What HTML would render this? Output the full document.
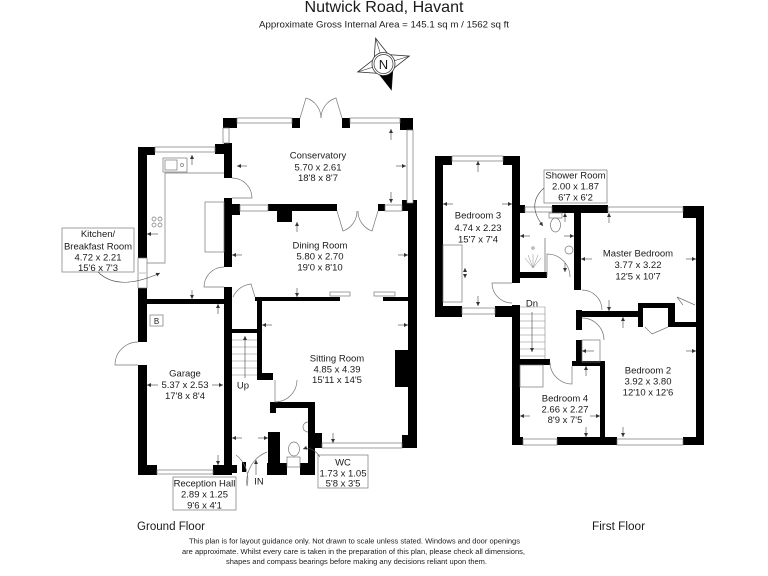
<!DOCTYPE html>
<html><head><meta charset="utf-8"><style>
html,body{margin:0;padding:0;background:#fff;}
svg{display:block;}
text{font-family:"Liberation Sans",Arial,sans-serif;fill:#1a1a1a;}
.l{font-size:9.5px;text-anchor:middle;}
.w{fill:#fff;stroke:#777;stroke-width:0.7;}
.o{fill:none;stroke:#777;stroke-width:0.7;}
.d{stroke:#444;stroke-width:0.6;fill:none;}
</style></head><body>
<svg width="768" height="576" viewBox="0 0 768 576" xmlns="http://www.w3.org/2000/svg">
<defs>
<marker id="a" viewBox="0 0 6 6" refX="6" refY="3" markerWidth="4" markerHeight="4" markerUnits="userSpaceOnUse" orient="auto"><path d="M0,0 L6,3 L0,6z" fill="#333"/></marker>
</defs>

<!-- Header -->
<text x="384" y="12" font-size="16" text-anchor="middle" textLength="159" lengthAdjust="spacingAndGlyphs">Nutwick Road, Havant</text>
<text x="384" y="27.5" font-size="9.5" text-anchor="middle" textLength="250" lengthAdjust="spacingAndGlyphs">Approximate Gross Internal Area = 145.1 sq m / 1562 sq ft</text>

<!-- Compass -->
<g transform="translate(383.5,64) rotate(-17)">
<polygon points="0,-27 7.5,-7.5 27,0 7.5,7.5 0,27 -7.5,7.5 -27,0 -7.5,-7.5" fill="#fff" stroke="#333" stroke-width="0.8"/>
<line x1="0" y1="-27" x2="0" y2="27" stroke="#333" stroke-width="0.6"/>
<line x1="-27" y1="0" x2="27" y2="0" stroke="#333" stroke-width="0.6"/>
<polygon points="0,27 7.5,7.5 -7.5,7.5" fill="#000"/>
</g>
<circle cx="383.5" cy="64" r="11.5" fill="#fff" stroke="#333" stroke-width="0.8"/>
<circle cx="383.5" cy="64" r="9.5" fill="#fff" stroke="#333" stroke-width="0.7"/>
<text x="383.5" y="69" font-size="13" text-anchor="middle">N</text>

<!-- ================= GROUND FLOOR ================= -->
<g fill="#000">
<!-- conservatory -->
<rect x="223" y="118" width="14" height="10"/>
<rect x="292" y="118" width="8" height="10"/>
<rect x="342" y="118" width="8" height="10"/>
<rect x="400" y="118" width="13" height="12"/>
<!-- kitchen/cons junction and kitchen right wall -->
<rect x="215" y="144" width="17" height="10"/>
<rect x="224" y="143" width="8" height="35"/>
<rect x="224" y="198" width="8" height="69"/>
<rect x="224" y="287" width="8" height="188"/>
<!-- kitchen left -->
<rect x="138" y="147" width="9" height="111"/>
<rect x="138" y="288" width="9" height="54"/>
<rect x="138" y="365" width="9" height="110"/>
<rect x="138" y="147" width="17" height="8"/>
<rect x="138" y="299" width="94" height="5"/>
<!-- garage bottom -->
<rect x="138" y="465" width="19" height="10"/>
<rect x="213" y="465" width="19" height="10"/>
<rect x="232" y="465" width="5" height="8"/>
<rect x="242" y="462" width="4" height="10"/>
<!-- dining divider -->
<rect x="224" y="204" width="16" height="11"/>
<rect x="268" y="204" width="69" height="7"/>
<rect x="277" y="211" width="15" height="11"/>
<rect x="378" y="204" width="7" height="7"/>
<rect x="402" y="200" width="15" height="11"/>
<!-- right wall -->
<rect x="408" y="203" width="9" height="245"/>
<rect x="395" y="350" width="13" height="37"/>
<rect x="402" y="435" width="15" height="13"/>
<!-- dining bottom / sitting top -->
<rect x="255" y="297" width="85" height="4"/>
<rect x="383" y="297" width="25" height="4"/>
<!-- stair / sitting left -->
<rect x="232" y="329" width="25" height="4"/>
<rect x="257" y="297" width="5" height="76"/>
<rect x="257" y="373" width="16" height="7"/>
<!-- WC -->
<rect x="270" y="402" width="45" height="6"/>
<rect x="270" y="402" width="6" height="11"/>
<rect x="308" y="402" width="7" height="73"/>
<rect x="308" y="433" width="14" height="12"/>
<rect x="315" y="443" width="7" height="5"/>
<rect x="268" y="432" width="12" height="43"/>
<rect x="267" y="463" width="20" height="12"/>
<rect x="300" y="463" width="15" height="12"/>
</g>
<!-- GF windows -->
<rect class="w" x="237" y="118" width="55" height="5"/>
<rect class="w" x="350" y="118" width="50" height="5"/>
<rect class="w" x="407" y="130" width="6" height="73"/>
<rect class="w" x="223" y="128" width="6" height="15"/>
<rect class="w" x="155" y="147" width="60" height="5"/>
<rect class="w" x="240" y="205" width="28" height="6"/>
<rect class="w" x="385" y="205" width="17" height="6"/>
<rect class="w" x="322" y="443" width="80" height="5"/>
<rect class="w" x="157" y="470" width="56" height="4"/>
<rect class="w" x="138" y="258" width="9" height="30"/>
<line x1="139" y1="273" x2="146" y2="273" stroke="#999" stroke-width="0.6"/>
<!-- GF doors/arcs -->
<path class="o" d="M300,118 L306,98 A21,21 0 0 1 321,118"/>
<path class="o" d="M342,118 L336,98 A21,21 0 0 0 321,118"/>
<path class="o" d="M337,211 L343,231 A21,21 0 0 0 357,211"/>
<path class="o" d="M378,211 L372,231 A21,21 0 0 1 358,211"/>
<path class="o" d="M232,178 A20,20 0 0 1 252,198 L232,198"/>
<path class="o" d="M224,267 A20,20 0 0 0 204,287 L224,287"/>
<path class="o" d="M138,342 A23,23 0 0 0 115,365 L138,365"/>
<path class="o" d="M233,297 A22,22 0 0 1 251,284 L255,297"/>
<path class="o" d="M275,380 L275,402 A22,22 0 0 0 297,380"/>
<path class="o" d="M236,455 A30,30 0 0 1 247,486 A32,32 0 0 1 267,452"/>
<!-- hearths -->
<rect class="w" x="330" y="292" width="20" height="4"/>
<rect class="w" x="374" y="292" width="21" height="4"/>
<!-- kitchen fittings -->
<path class="o" d="M224,173 L165,173 L165,263 L147,263"/>
<rect class="o" x="163" y="158" width="24" height="14"/>
<rect class="o" x="165" y="160" width="12" height="10"/>
<circle class="o" cx="182" cy="165" r="1.5"/>
<g class="o"><circle cx="154" cy="219" r="2"/><circle cx="160" cy="219" r="2"/><circle cx="154" cy="225" r="2"/><circle cx="160" cy="225" r="2"/></g>
<rect class="o" x="205" y="202" width="19" height="50"/>
<!-- stairs GF -->
<g stroke="#888" stroke-width="0.6">
<line x1="232" y1="340" x2="257" y2="340"/><line x1="232" y1="347" x2="257" y2="347"/>
<line x1="232" y1="354" x2="257" y2="354"/><line x1="232" y1="361" x2="257" y2="361"/>
<line x1="232" y1="368" x2="257" y2="368"/><line x1="232" y1="375" x2="257" y2="375"/>
</g>
<line class="d" x1="245" y1="378" x2="245" y2="336" marker-end="url(#a)"/>
<!-- WC fittings -->
<ellipse class="o" cx="294" cy="449" rx="5.5" ry="7"/>
<rect class="w" x="287" y="457" width="13" height="10"/>
<path class="o" d="M308,422 A5,5 0 0 0 308,432"/>
<!-- B box -->
<rect class="o" x="150" y="315" width="13" height="11"/>
<text x="156.5" y="324" font-size="8" text-anchor="middle">B</text>
<!-- GF dimension arrows -->
<g class="d">
<line x1="192" y1="165" x2="192" y2="155" marker-end="url(#a)"/>
<line x1="192" y1="290" x2="192" y2="299" marker-end="url(#a)"/>
<line x1="158" y1="234" x2="147" y2="234" marker-end="url(#a)"/>
<line x1="247" y1="166" x2="237" y2="166" marker-end="url(#a)"/>
<line x1="396" y1="166" x2="406" y2="166" marker-end="url(#a)"/>
<line x1="391" y1="140" x2="391" y2="129" marker-end="url(#a)"/>
<line x1="391" y1="192" x2="391" y2="203" marker-end="url(#a)"/>
<line x1="242" y1="255" x2="232" y2="255" marker-end="url(#a)"/>
<line x1="398" y1="255" x2="408" y2="255" marker-end="url(#a)"/>
<line x1="297" y1="232" x2="297" y2="222" marker-end="url(#a)"/>
<line x1="297" y1="288" x2="297" y2="297" marker-end="url(#a)"/>
<line x1="272" y1="325" x2="262" y2="325" marker-end="url(#a)"/>
<line x1="398" y1="325" x2="408" y2="325" marker-end="url(#a)"/>
<line x1="333" y1="433" x2="333" y2="443" marker-end="url(#a)"/>
<line x1="158" y1="385" x2="147" y2="385" marker-end="url(#a)"/>
<line x1="212" y1="385" x2="223" y2="385" marker-end="url(#a)"/>
<line x1="218" y1="314" x2="218" y2="304" marker-end="url(#a)"/>
<line x1="218" y1="455" x2="218" y2="465" marker-end="url(#a)"/>
<line x1="242" y1="438" x2="232" y2="438" marker-end="url(#a)"/>
<line x1="258" y1="438" x2="268" y2="438" marker-end="url(#a)"/>
<line x1="256" y1="475" x2="256" y2="460" marker-end="url(#a)"/>
</g>
<!-- GF labels -->
<rect class="o" x="62" y="228" width="72" height="44" fill="#fff"/>
<text class="l" x="98" y="237">Kitchen/</text>
<text class="l" x="98" y="249.5">Breakfast Room</text>
<text class="l" x="98" y="260.5">4.72 x 2.21</text>
<text class="l" x="98" y="271">15'6 x 7'3</text>
<path class="d" d="M98,272 Q118,292 160,273" marker-end="url(#a)"/>
<text class="l" x="318" y="158.5">Conservatory</text>
<text class="l" x="318" y="170.5">5.70 x 2.61</text>
<text class="l" x="318" y="181">18'8 x 8'7</text>
<text class="l" x="320" y="248.5">Dining Room</text>
<text class="l" x="320" y="259.5">5.80 x 2.70</text>
<text class="l" x="320" y="270.5">19'0 x 8'10</text>
<text class="l" x="337" y="361.5">Sitting Room</text>
<text class="l" x="337" y="372.5">4.85 x 4.39</text>
<text class="l" x="337" y="383">15'11 x 14'5</text>
<text class="l" x="185" y="376.5">Garage</text>
<text class="l" x="185" y="388">5.37 x 2.53</text>
<text class="l" x="185" y="399">17'8 x 8'4</text>
<text class="l" x="243" y="388.5">Up</text>
<rect class="o" x="173" y="477" width="63" height="33" fill="#fff"/>
<text class="l" x="204.5" y="486.5">Reception Hall</text>
<text class="l" x="204.5" y="497.5">2.89 x 1.25</text>
<text class="l" x="204.5" y="508.5">9'6 x 4'1</text>
<text class="l" x="259" y="484.5">IN</text>
<rect class="o" x="318" y="455" width="50" height="33" fill="#fff"/>
<text class="l" x="343" y="465.5">WC</text>
<text class="l" x="343" y="476.5">1.73 x 1.05</text>
<text class="l" x="343" y="486.5">5'8 x 3'5</text>
<path class="d" d="M320,457 Q312,446 303,449" marker-end="url(#a)"/>

<!-- ================= FIRST FLOOR ================= -->
<g fill="#000">
<rect x="435" y="156" width="8" height="161"/>
<rect x="435" y="156" width="17" height="9"/>
<rect x="503" y="156" width="17" height="9"/>
<rect x="512" y="156" width="8" height="127"/>
<rect x="512" y="305" width="8" height="140"/>
<rect x="435" y="306" width="27" height="11"/>
<rect x="495" y="306" width="17" height="11"/>
<!-- shower -->
<rect x="520" y="205" width="5" height="8"/>
<rect x="552" y="205" width="56" height="8"/>
<rect x="520" y="272" width="27" height="6"/>
<rect x="574" y="205" width="7" height="85"/>
<!-- master -->
<rect x="683" y="206" width="21" height="12"/>
<rect x="696" y="206" width="8" height="239"/>
<rect x="576" y="310" width="6" height="20"/>
<rect x="576" y="311" width="67" height="6"/>
<rect x="638" y="303" width="37" height="24"/>
<rect x="668" y="322" width="29" height="5"/>
<!-- landing / bed4 -->
<rect x="576" y="340" width="6" height="23"/>
<rect x="520" y="359" width="30" height="6"/>
<rect x="572" y="361" width="33" height="5"/>
<rect x="600" y="361" width="5" height="84"/>
<rect x="512" y="437" width="11" height="8"/>
<rect x="557" y="437" width="60" height="8"/>
<rect x="683" y="437" width="21" height="8"/>
</g>
<rect x="643" y="308" width="25" height="19" fill="#fff"/>
<!-- FF windows -->
<rect class="w" x="452" y="156" width="51" height="5"/>
<rect class="w" x="462" y="308" width="33" height="6"/>
<rect class="w" x="525" y="207" width="27" height="5"/>
<rect class="w" x="608" y="207" width="75" height="5"/>
<rect class="w" x="523" y="439" width="34" height="6"/>
<rect class="w" x="617" y="439" width="66" height="6"/>
<!-- FF fittings -->
<rect class="o" x="443" y="245" width="19" height="57"/>
<line x1="545" y1="238" x2="545" y2="272" stroke="#777" stroke-width="0.8"/>
<g stroke="#888" stroke-width="0.5">
<line x1="533" y1="268" x2="525" y2="258"/><line x1="533" y1="268" x2="528" y2="255"/>
<line x1="533" y1="268" x2="533" y2="254"/><line x1="533" y1="268" x2="538" y2="255"/>
<line x1="533" y1="268" x2="541" y2="258"/>
</g>
<circle class="o" cx="533" cy="248" r="1.2"/>
<rect class="w" x="549" y="213" width="13" height="5"/>
<ellipse class="o" cx="555.5" cy="225" rx="5" ry="7"/>
<circle class="o" cx="569" cy="250" r="4"/>
<rect class="o" x="582" y="340" width="18" height="22"/>
<rect class="o" x="520" y="365" width="23" height="22"/>
<!-- FF doors -->
<path class="o" d="M512,283 L492,283 A20,20 0 0 0 512,303"/>
<path class="o" d="M547,277 L547,254 A23,23 0 0 1 570,277"/>
<path class="o" d="M582,290 A20,20 0 0 1 602,310"/>
<path class="o" d="M582,318 A22,22 0 0 1 604,340"/>
<path class="o" d="M550,362 A22,22 0 0 0 572,384 L572,366"/>
<path class="o" d="M652,334 L668,327 M652,334 L645,327"/>
<path class="o" d="M677,297 L695,305 M683,305 L677,297"/>
<!-- FF stairs -->
<g stroke="#888" stroke-width="0.6">
<line x1="520" y1="314" x2="545" y2="314"/><line x1="520" y1="321" x2="545" y2="321"/>
<line x1="520" y1="328" x2="545" y2="328"/><line x1="520" y1="335" x2="545" y2="335"/>
<line x1="520" y1="342" x2="545" y2="342"/><line x1="520" y1="349" x2="545" y2="349"/>
<line x1="520" y1="356" x2="545" y2="356"/><line x1="545" y1="307" x2="545" y2="359"/>
<line x1="520" y1="307" x2="545" y2="307"/>
</g>
<line class="d" x1="532" y1="312" x2="532" y2="352" marker-end="url(#a)"/>
<!-- FF dimension arrows -->
<g class="d">
<line x1="478" y1="172" x2="478" y2="161" marker-end="url(#a)"/>
<line x1="478" y1="296" x2="478" y2="306" marker-end="url(#a)"/>
<line x1="453" y1="204" x2="443" y2="204" marker-end="url(#a)"/>
<line x1="502" y1="204" x2="512" y2="204" marker-end="url(#a)"/>
<line x1="465" y1="272" x2="465" y2="268" marker-end="url(#a)"/>
<line x1="465" y1="274" x2="465" y2="278" marker-end="url(#a)"/>
<line x1="530" y1="236" x2="520" y2="236" marker-end="url(#a)"/>
<line x1="564" y1="236" x2="574" y2="236" marker-end="url(#a)"/>
<line x1="565" y1="222" x2="565" y2="213" marker-end="url(#a)"/>
<line x1="565" y1="263" x2="565" y2="272" marker-end="url(#a)"/>
<line x1="592" y1="259" x2="581" y2="259" marker-end="url(#a)"/>
<line x1="686" y1="259" x2="696" y2="259" marker-end="url(#a)"/>
<line x1="609" y1="223" x2="609" y2="213" marker-end="url(#a)"/>
<line x1="609" y1="300" x2="609" y2="311" marker-end="url(#a)"/>
<line x1="623" y1="328" x2="623" y2="317" marker-end="url(#a)"/>
<line x1="623" y1="427" x2="623" y2="437" marker-end="url(#a)"/>
<line x1="686" y1="351" x2="696" y2="351" marker-end="url(#a)"/>
<line x1="530" y1="416" x2="520" y2="416" marker-end="url(#a)"/>
<line x1="590" y1="416" x2="600" y2="416" marker-end="url(#a)"/>
<line x1="586" y1="376" x2="586" y2="366" marker-end="url(#a)"/>
<line x1="586" y1="427" x2="586" y2="437" marker-end="url(#a)"/>
<line x1="594" y1="351" x2="582" y2="351" marker-end="url(#a)"/>
</g>
<!-- FF labels -->
<text class="l" x="478" y="218.5">Bedroom 3</text>
<text class="l" x="478" y="231">4.74 x 2.23</text>
<text class="l" x="478" y="242.5">15'7 x 7'4</text>
<rect class="o" x="544" y="170" width="63" height="33" fill="#fff"/>
<text class="l" x="575.5" y="178.5">Shower Room</text>
<text class="l" x="575.5" y="189.5">2.00 x 1.87</text>
<text class="l" x="575.5" y="200.5">6'7 x 6'2</text>
<path class="d" d="M544,188 Q526,204 543,226" marker-end="url(#a)"/>
<text class="l" x="638" y="256.5">Master Bedroom</text>
<text class="l" x="638" y="268">3.77 x 3.22</text>
<text class="l" x="638" y="279.5">12'5 x 10'7</text>
<text class="l" x="532" y="306.5">Dn</text>
<text class="l" x="565" y="401.5">Bedroom 4</text>
<text class="l" x="565" y="412.5">2.66 x 2.27</text>
<text class="l" x="565" y="423">8'9 x 7'5</text>
<text class="l" x="648" y="373.5">Bedroom 2</text>
<text class="l" x="648" y="384.5">3.92 x 3.80</text>
<text class="l" x="648" y="395.5">12'10 x 12'6</text>

<!-- Footer -->
<text x="137" y="530" font-size="11.5" textLength="68" lengthAdjust="spacingAndGlyphs">Ground Floor</text>
<text x="592" y="530" font-size="11.5" textLength="53" lengthAdjust="spacingAndGlyphs">First Floor</text>
<text x="354.5" y="543.5" font-size="7.6" text-anchor="middle" textLength="331" lengthAdjust="spacingAndGlyphs">This plan is for layout guidance only. Not drawn to scale unless stated. Windows and door openings</text>
<text x="353.5" y="554" font-size="7.6" text-anchor="middle" textLength="343" lengthAdjust="spacingAndGlyphs">are approximate. Whilst every care is taken in the preparation of this plan, please check all dimensions,</text>
<text x="356.5" y="564" font-size="7.6" text-anchor="middle" textLength="261" lengthAdjust="spacingAndGlyphs">shapes and compass bearings before making any decisions reliant upon them.</text>
</svg>
</body></html>
